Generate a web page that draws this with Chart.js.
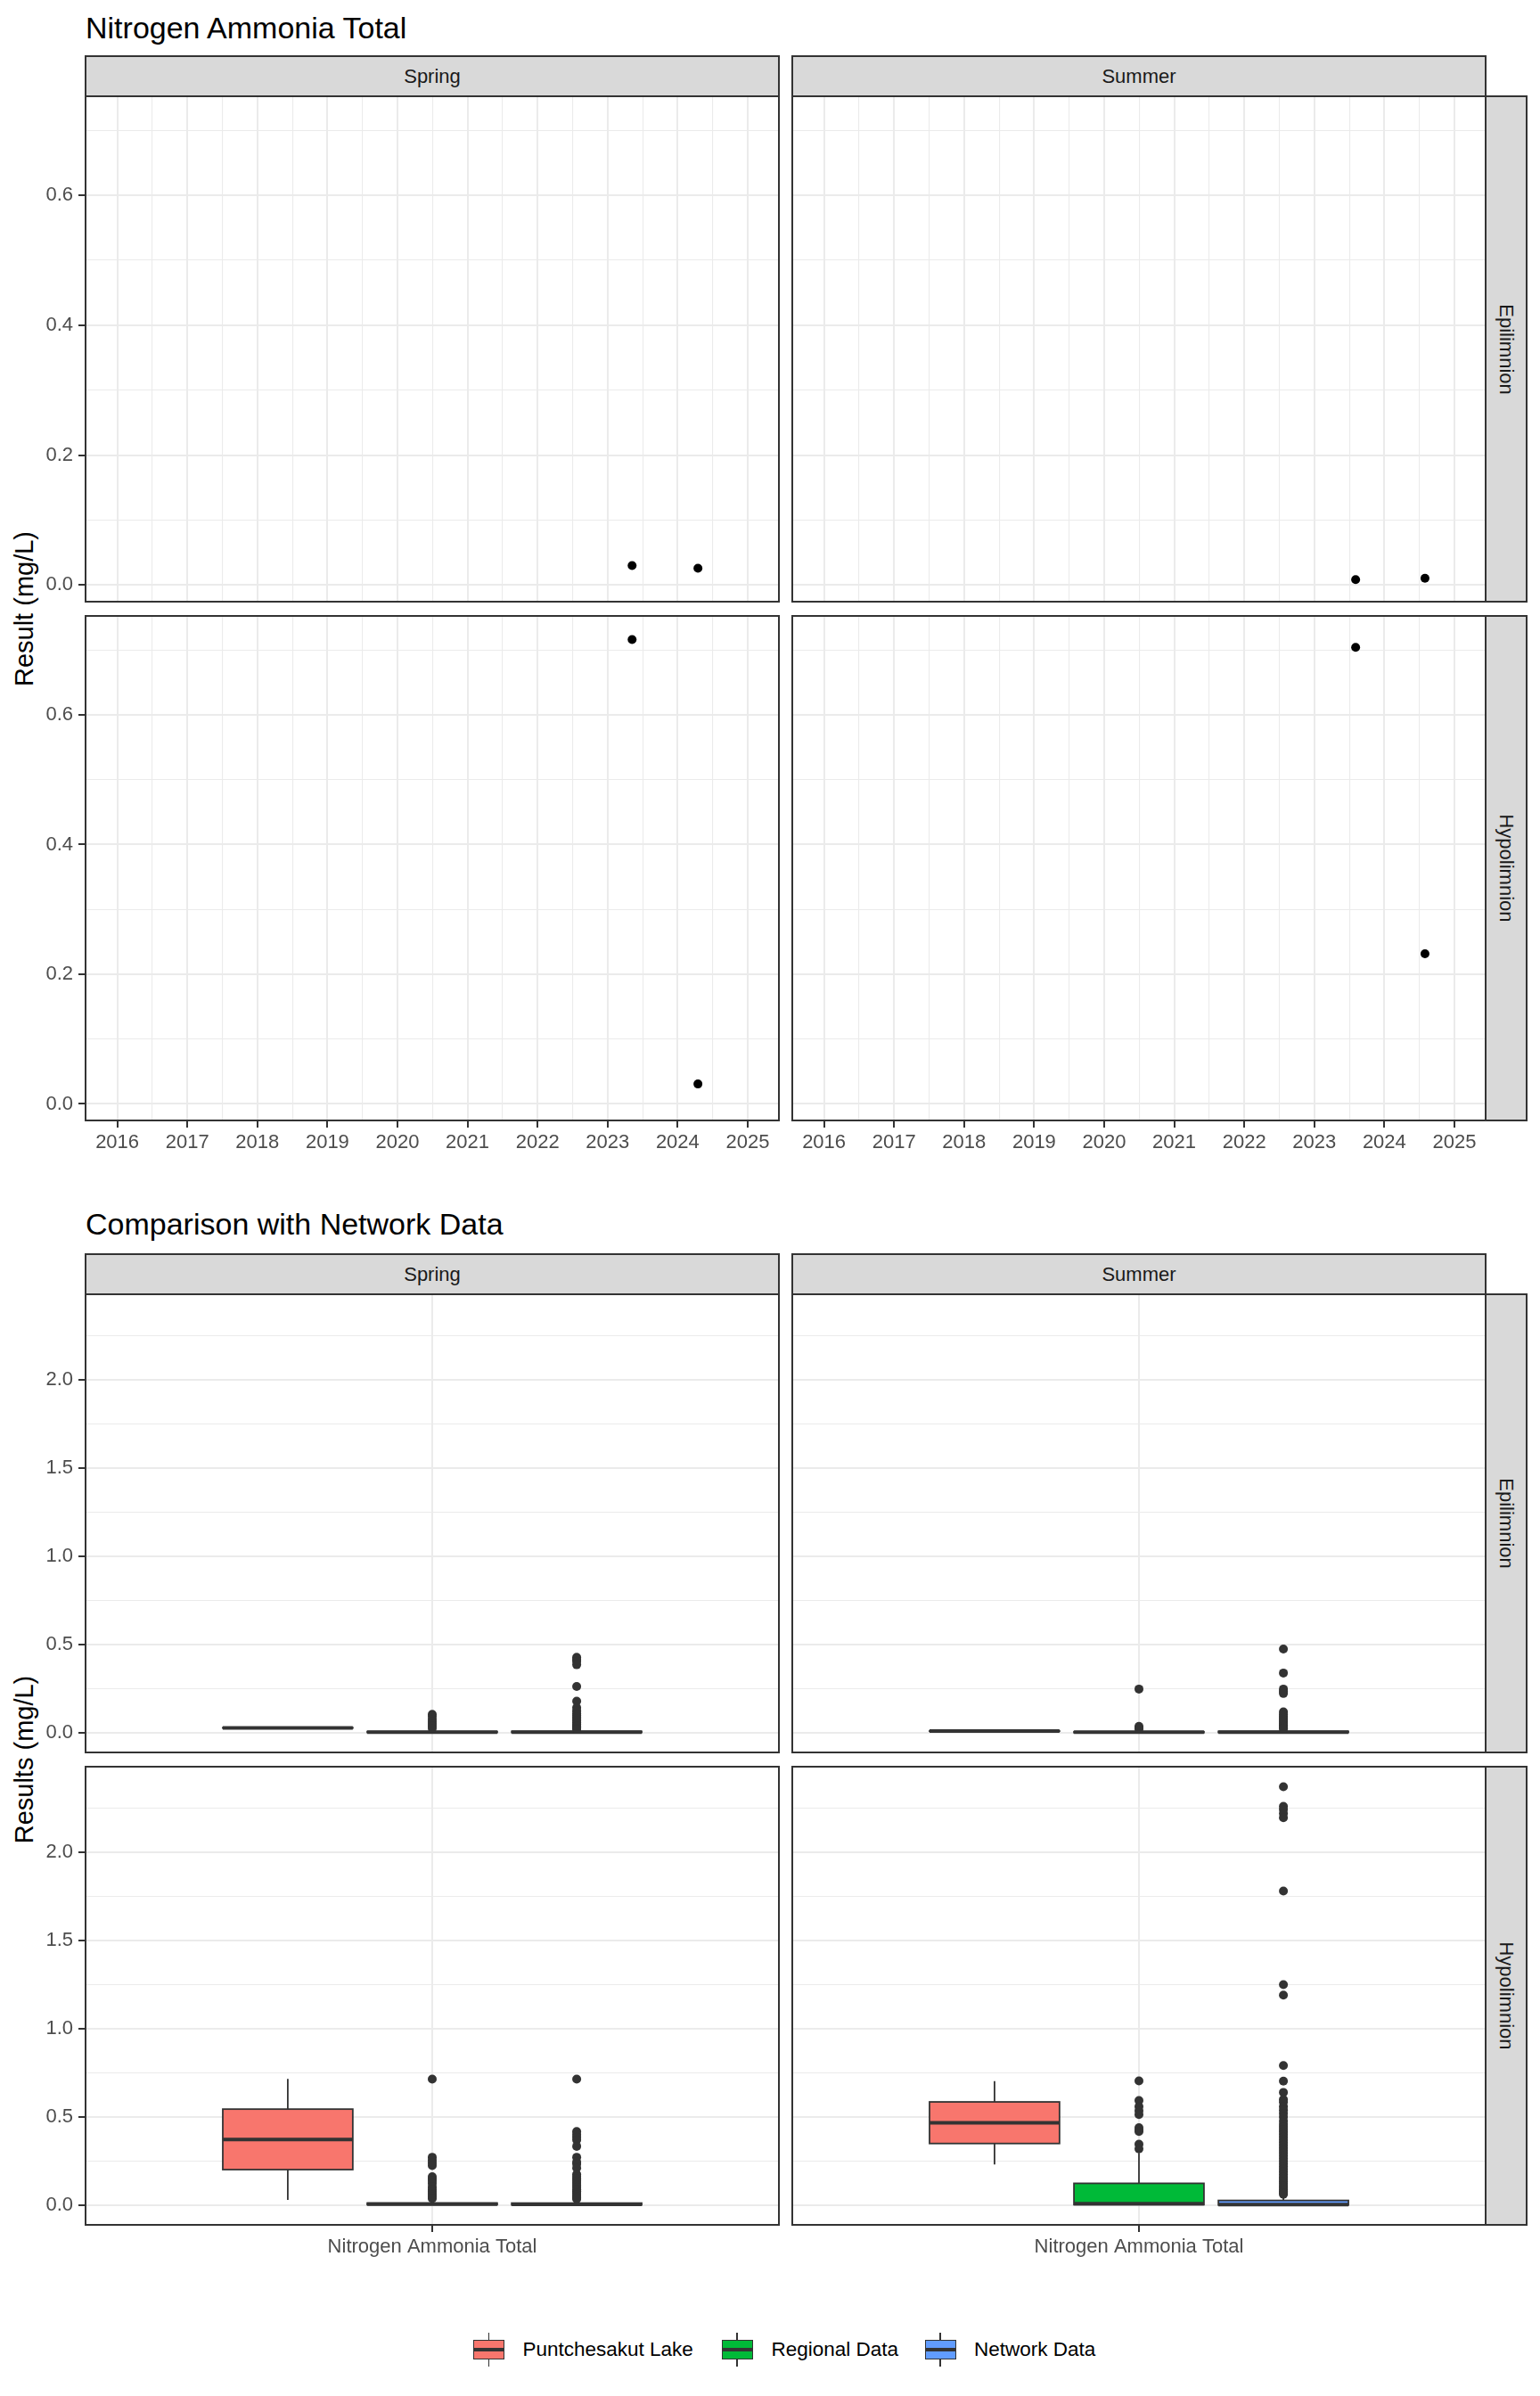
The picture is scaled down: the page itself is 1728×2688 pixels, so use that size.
<!DOCTYPE html>
<html>
<head>
<meta charset="utf-8">
<script src="https://cdn.jsdelivr.net/npm/chart.js@4.4.1/dist/chart.umd.min.js"></script>
<style>
html,body{margin:0;padding:0;background:#fff;}
#root{position:relative;width:1728px;height:2688px;overflow:hidden;background:#fff;font-family:"Liberation Sans",Arial,sans-serif;}
.abs{position:absolute;white-space:nowrap;}
.title{font-size:34px;line-height:34px;color:#000;}
.strip{position:absolute;box-sizing:border-box;background:#D9D9D9;border:2px solid #333333;display:flex;align-items:center;justify-content:center;font-size:22px;color:#1A1A1A;overflow:visible;}
.strip span{display:block;white-space:nowrap;}
.rot90 span{transform:rotate(90deg);}
.ytitle{font-size:29px;color:#000;transform:translate(-50%,-50%) rotate(-90deg);line-height:29px;}
.lgtext{font-size:22.5px;color:#000;height:30px;line-height:30px;}
.key{position:absolute;box-sizing:border-box;border:1.8px solid #333333;}
.kline{position:absolute;background:#333333;}
canvas{position:absolute;}
</style>
</head>
<body>
<div id="root"></div>
<script>
// ---------------- DATA ----------------
const seasons = ['Spring', 'Summer'];
const layers = ['Epilimnion', 'Hypolimnion'];
const groups = ['Puntchesakut Lake', 'Regional Data', 'Network Data'];

// Time-series tick labels (decimal years)
const yearTicks = [2016, 2017, 2018, 2019, 2020, 2021, 2022, 2023, 2024, 2025];
const yearMinorTicks = [2016.5, 2017.5, 2018.5, 2019.5, 2020.5, 2021.5, 2022.5, 2023.5, 2024.5];
const trendYTicks = [0, 0.2, 0.4, 0.6];
const trendYMinorTicks = [0.1, 0.3, 0.5, 0.7];

// Time-series observations (decimal year, mg/L)
const springEpiYears = [2023.35, 2024.29];
const springEpiValues = [0.030, 0.026];
const summerEpiYears = [2023.59, 2024.58];
const summerEpiValues = [0.0085, 0.0104];
const springHypoYears = [2023.35, 2024.29];
const springHypoValues = [0.716, 0.0307];
const summerHypoYears = [2023.59, 2024.58];
const summerHypoValues = [0.704, 0.2315];

// Box plot axis ticks
const boxXTicks = [1];
const boxXLabels = ['Nitrogen Ammonia Total'];
const boxYTicks = [0, 0.5, 1.0, 1.5, 2.0];
const boxYMinorTicks = [0.25, 0.75, 1.25, 1.75, 2.25];

// Box stats per group: [lower whisker, Q1, median, Q3, upper whisker]
const boxSpringEpi = [
  [0.026, 0.027, 0.028, 0.029, 0.030],
  [0.000, 0.002, 0.004, 0.007, 0.014],
  [0.000, 0.002, 0.004, 0.008, 0.016]
];
const boxSummerEpi = [
  [0.0085, 0.009, 0.0095, 0.010, 0.0104],
  [0.000, 0.001, 0.003, 0.006, 0.012],
  [0.000, 0.002, 0.004, 0.008, 0.016]
];
const boxSpringHypo = [
  [0.0307, 0.202, 0.373, 0.545, 0.716],
  [0.000, 0.003, 0.006, 0.012, 0.030],
  [0.000, 0.002, 0.005, 0.012, 0.028]
];
const boxSummerHypo = [
  [0.2315, 0.350, 0.468, 0.586, 0.704],
  [0.000, 0.003, 0.008, 0.124, 0.297],
  [0.000, 0.001, 0.004, 0.027, 0.050]
];

// Outliers per group
const outSpringEpi = [
  [],
  [0.105, 0.092, 0.075, 0.062, 0.050, 0.038, 0.025],
  [0.428, 0.416, 0.405, 0.386, 0.263, 0.179, 0.142, 0.125, 0.110, 0.098, 0.088, 0.078, 0.068, 0.058, 0.048, 0.040, 0.032, 0.025, 0.020]
];
const outSummerEpi = [
  [],
  [0.248, 0.036, 0.028, 0.021],
  [0.475, 0.339, 0.248, 0.235, 0.223, 0.118, 0.105, 0.092, 0.082, 0.072, 0.062, 0.052, 0.044, 0.036, 0.028, 0.022]
];
const outSpringHypo = [
  [],
  [0.715, 0.272, 0.255, 0.240, 0.225, 0.161, 0.150, 0.138, 0.124, 0.104, 0.090, 0.078, 0.066, 0.057, 0.046, 0.038],
  [0.715, 0.418, 0.401, 0.385, 0.370, 0.334, 0.272, 0.245, 0.233, 0.211, 0.175, 0.162, 0.150, 0.138, 0.126, 0.114, 0.102, 0.090, 0.080, 0.070, 0.060, 0.050, 0.042, 0.035]
];
const outSummerHypo = [
  [],
  [0.705, 0.594, 0.560, 0.536, 0.514, 0.440, 0.426, 0.418, 0.346, 0.320],
  [2.374, 2.262, 2.245, 2.222, 2.198, 1.782, 1.251, 1.192, 0.792, 0.704, 0.640, 0.600, 0.585, 0.560, 0.540, 0.520, 0.500, 0.478, 0.460, 0.445, 0.430, 0.415, 0.400, 0.385, 0.370, 0.355, 0.340, 0.325, 0.310, 0.295, 0.280, 0.265, 0.250, 0.235, 0.220, 0.205, 0.190, 0.175, 0.160, 0.148, 0.135, 0.122, 0.110, 0.098, 0.088, 0.078, 0.070, 0.062]
];

// ---------------- STYLE / LAYOUT ----------------
const groupColors = ['#F8766D', '#00BA38', '#619CFF'];
const FONT = '"Liberation Sans", Arial, sans-serif';
const cols = [{x: 96, w: 778}, {x: 889, w: 778}];
const topRows = [{y: 108, h: 567}, {y: 691, h: 566}];
const botRows = [{y: 1452, h: 514}, {y: 1982, h: 514}];
const rowStripX = 1667, rowStripW = 46;
const trendX = {min: 2015.547, max: 2025.446};
const trendY = {min: -0.0255, max: 0.7525};
const boxX = {min: 0.4, max: 1.6};
const boxY = {min: -0.1115, max: 2.4875};
const dodge = 0.25, boxHalf = 0.1125;

Chart.defaults.font.family = FONT;
const root = document.getElementById('root');

function addDiv(cls, css, html) {
  const d = document.createElement('div');
  d.className = cls;
  d.style.cssText = css;
  if (html !== undefined) d.innerHTML = html;
  root.appendChild(d);
  return d;
}

function axisCfg(ax, show, dir, size) {
  const majorSet = new Set(ax.major);
  const all = ax.major.concat(ax.minor).sort((a, b) => a - b);
  const isMajor = c => c && c.tick && majorSet.has(c.tick.value);
  return {
    type: 'linear', min: ax.min, max: ax.max,
    position: dir === 'x' ? 'bottom' : 'left',
    afterBuildTicks: s => { s.ticks = all.map(v => ({value: v})); },
    afterFit: s => {
      if (dir === 'x') s.height = size; else s.width = size;
      s.paddingTop = 0; s.paddingBottom = 0; s.paddingLeft = 0; s.paddingRight = 0;
    },
    ticks: {
      display: show, autoSkip: false, maxRotation: 0, minRotation: 0,
      padding: dir === 'x' ? 4 : 6,
      font: {family: FONT, size: 22}, color: '#4D4D4D',
      callback: v => majorSet.has(v) ? ax.label(v) : ''
    },
    grid: {
      color: '#EBEBEB',
      lineWidth: c => isMajor(c) ? 2 : 1.1,
      drawTicks: show, tickLength: 8,
      tickColor: c => isMajor(c) ? '#333333' : 'rgba(0,0,0,0)',
      tickWidth: c => isMajor(c) ? 2 : 0
    },
    border: {display: false}
  };
}

const borderPlugin = {
  id: 'panelBorder',
  afterDraw(chart) {
    const {ctx, chartArea: a} = chart;
    ctx.save();
    ctx.strokeStyle = '#333333';
    ctx.lineWidth = 2;
    ctx.strokeRect(a.left, a.top, a.right - a.left, a.bottom - a.top);
    ctx.restore();
  }
};

function boxPlugin(stats) {
  return {
    id: 'boxes',
    beforeDatasetsDraw(chart) {
      const xs = chart.scales.x, ys = chart.scales.y, ctx = chart.ctx;
      const a = chart.chartArea;
      ctx.save();
      ctx.beginPath();
      ctx.rect(a.left, a.top, a.right - a.left, a.bottom - a.top);
      ctx.clip();
      stats.forEach((s, i) => {
        const c = 1 + (i - 1) * dodge;
        const xl = xs.getPixelForValue(c - boxHalf);
        const xr = xs.getPixelForValue(c + boxHalf);
        const xc = xs.getPixelForValue(c);
        const [lo, q1, med, q3, hi] = s.map(v => ys.getPixelForValue(v));
        ctx.strokeStyle = '#333333';
        ctx.lineCap = 'butt';
        ctx.lineWidth = 1.8;
        ctx.beginPath();
        ctx.moveTo(xc, q3); ctx.lineTo(xc, hi);
        ctx.moveTo(xc, q1); ctx.lineTo(xc, lo);
        ctx.stroke();
        ctx.fillStyle = groupColors[i];
        ctx.fillRect(xl, q3, xr - xl, q1 - q3);
        ctx.strokeRect(xl, q3, xr - xl, q1 - q3);
        ctx.lineWidth = 4;
        ctx.beginPath();
        ctx.moveTo(xl, med); ctx.lineTo(xr, med);
        ctx.stroke();
      });
      ctx.restore();
    }
  };
}

function makePanel(col, row, cfg) {
  const ML = 92, MB = 50, PT = 6, PR = 6;
  const cv = document.createElement('canvas');
  const w = ML + col.w + PR, h = PT + row.h + MB;
  cv.width = w; cv.height = h;
  cv.style.left = (col.x - ML) + 'px';
  cv.style.top = (row.y - PT) + 'px';
  cv.style.width = w + 'px';
  cv.style.height = h + 'px';
  root.appendChild(cv);
  const plugins = [borderPlugin];
  if (cfg.boxes) plugins.push(boxPlugin(cfg.boxes));
  new Chart(cv, {
    type: 'scatter',
    data: {datasets: cfg.datasets},
    options: {
      responsive: false, animation: false, events: [], devicePixelRatio: 1,
      layout: {padding: {top: PT, right: PR, left: 0, bottom: 0}},
      plugins: {legend: {display: false}, tooltip: {enabled: false}, title: {display: false}},
      scales: {
        x: axisCfg(cfg.x, cfg.showX, 'x', MB),
        y: axisCfg(cfg.y, cfg.showY, 'y', ML)
      }
    },
    plugins
  });
}

// ---------------- TEXT & STRIPS ----------------
addDiv('abs title', 'left:96px;top:13.6px;', 'Nitrogen Ammonia Total');
addDiv('abs title', 'left:96px;top:1356px;', 'Comparison with Network Data');

function colStrips(yTop, h) {
  seasons.forEach((s, ci) => {
    const c = cols[ci];
    addDiv('strip', `left:${c.x - 1}px;top:${yTop - 1}px;width:${c.w + 2}px;height:${h + 2}px;`, `<span>${s}</span>`);
  });
}
function rowStrips(rows) {
  layers.forEach((l, ri) => {
    const r = rows[ri];
    addDiv('strip rot90', `left:${rowStripX - 1}px;top:${r.y - 1}px;width:${rowStripW + 2}px;height:${r.h + 2}px;`, `<span>${l}</span>`);
  });
}
colStrips(63, 45);
rowStrips(topRows);
colStrips(1407, 45);
rowStrips(botRows);

addDiv('abs ytitle', `left:27px;top:${(topRows[0].y + topRows[1].y + topRows[1].h) / 2}px;`, 'Result (mg/L)');
addDiv('abs ytitle', `left:27px;top:${(botRows[0].y + botRows[1].y + botRows[1].h) / 2}px;`, 'Results (mg/L)');

// ---------------- TOP: time series ----------------
const trendXAxis = {min: trendX.min, max: trendX.max, major: yearTicks, minor: yearMinorTicks, label: v => String(v)};
const trendYAxis = {min: trendY.min, max: trendY.max, major: trendYTicks, minor: trendYMinorTicks, label: v => v.toFixed(1)};
const trendSeries = [
  [[springEpiYears, springEpiValues], [summerEpiYears, summerEpiValues]],
  [[springHypoYears, springHypoValues], [summerHypoYears, summerHypoValues]]
];
trendSeries.forEach((rowData, ri) => {
  rowData.forEach(([xs, ys], ci) => {
    makePanel(cols[ci], topRows[ri], {
      x: trendXAxis, y: trendYAxis, showX: ri === 1, showY: ci === 0,
      datasets: [{
        data: xs.map((x, k) => ({x, y: ys[k]})),
        backgroundColor: '#000000', borderWidth: 0, pointRadius: 5
      }]
    });
  });
});

// ---------------- BOTTOM: box plots ----------------
const boxXAxis = {min: boxX.min, max: boxX.max, major: boxXTicks, minor: [], label: v => boxXLabels[boxXTicks.indexOf(v)]};
const boxYAxis = {min: boxY.min, max: boxY.max, major: boxYTicks, minor: boxYMinorTicks, label: v => v.toFixed(1)};
const boxPanels = [
  [[boxSpringEpi, outSpringEpi], [boxSummerEpi, outSummerEpi]],
  [[boxSpringHypo, outSpringHypo], [boxSummerHypo, outSummerHypo]]
];
boxPanels.forEach((rowData, ri) => {
  rowData.forEach(([stats, outs], ci) => {
    makePanel(cols[ci], botRows[ri], {
      x: boxXAxis, y: boxYAxis, showX: ri === 1, showY: ci === 0,
      boxes: stats,
      datasets: outs.map((vals, gi) => ({
        data: vals.map(v => ({x: 1 + (gi - 1) * dodge, y: v})),
        backgroundColor: '#333333', borderWidth: 0, pointRadius: 5
      }))
    });
  });
});

// ---------------- LEGEND ----------------
const legendKeysX = [531, 809.5, 1037.5];
const legendTextX = [586.5, 865.5, 1093];
groups.forEach((g, i) => {
  const bx = legendKeysX[i], bw = 35, by = 2625, bh = 22;
  const cx = bx + bw / 2;
  addDiv('kline', `left:${cx - 0.9}px;top:${by - 8}px;width:1.8px;height:${bh + 16}px;`);
  addDiv('key', `left:${bx}px;top:${by}px;width:${bw}px;height:${bh}px;background:${groupColors[i]};`);
  addDiv('kline', `left:${bx}px;top:${by + bh / 2 - 2}px;width:${bw}px;height:4px;`);
  addDiv('abs lgtext', `left:${legendTextX[i]}px;top:2621px;`, g);
});
</script>
</body>
</html>
